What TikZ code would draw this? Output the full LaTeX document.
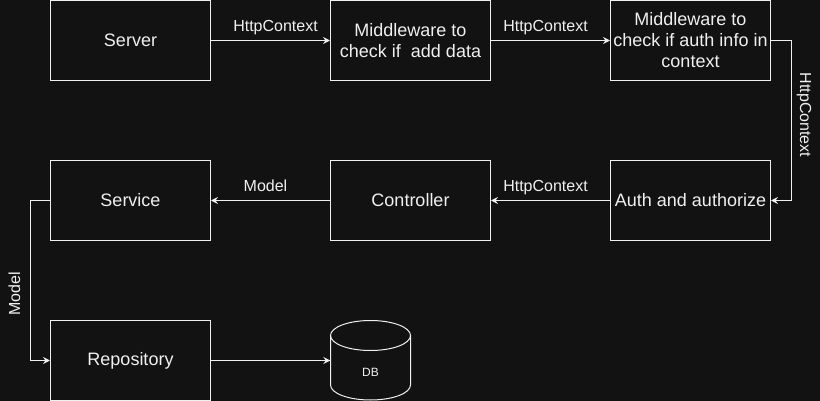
\documentclass[tikz,border=0pt]{standalone}
\usepackage{fontspec}
\setmainfont{Liberation Sans}
\usetikzlibrary{arrows.meta}
\definecolor{bg}{HTML}{121212}
\definecolor{fg}{HTML}{F0F0F0}
\begin{document}
\begin{tikzpicture}[x=1pt,y=-1pt,
  box/.style={draw=fg, line width=1pt, minimum width=160pt, minimum height=80pt, inner sep=0pt, align=center, text=fg, font=\fontsize{18}{21}\selectfont},
  lbl/.style={text=fg, inner sep=0pt, font=\fontsize{16}{19}\selectfont},
  hlbl/.style={lbl, midway, anchor=base, yshift=8.5pt},
  dbtext/.style={text=fg, inner sep=0pt, font=\fontsize{12}{14}\selectfont},
  conn/.style={draw=fg, line width=1pt, -{Stealth[length=7pt,width=7pt,inset=2.5pt]}}]
\fill[bg] (0,0) rectangle (820,401);
\useasboundingbox (0,0) rectangle (820,401);
\node[box] (server) at (130.5,40.5) {Server};
\node[box] (mw1) at (410.5,40.5) {Middleware to\\check if\ \ add data};
\node[box] (mw2) at (690.5,40.5) {Middleware to\\check if auth info in\\context};
\node[box] (service) at (130.5,200.5) {Service};
\node[box] (ctrl) at (410.5,200.5) {Controller};
\node[box] (auth) at (690.5,200.5) {Auth and authorize};
\node[box] (repo) at (130.5,360.5) {Repository};
% DB cylinder
\node[minimum width=80pt, minimum height=80pt, inner sep=0pt] (db) at (370.5,360.5) {};
\draw[fg, line width=1pt] (370.5,335.5) ellipse [x radius=40pt, y radius=15pt];
\draw[fg, line width=1pt] (330.5,335.5) -- (330.5,385) arc[start angle=180, end angle=360, x radius=40pt, y radius=15pt] -- (410.5,335.5);
\node[dbtext] (dblabel) at (370.5,372.8) {DB};
% connectors
\draw[conn] (server) -- node[hlbl, xshift=5pt] {HttpContext} (mw1);
\draw[conn] (mw1) -- node[hlbl, xshift=-5pt] {HttpContext} (mw2);
\draw[conn] (mw2.east) -- ++(20,0) |- (auth.east);
\node[lbl, rotate=-90] (l3) at (804,115) {HttpContext};
\draw[conn] (auth) -- node[hlbl, xshift=-5pt] {HttpContext} (ctrl);
\draw[conn] (ctrl) -- node[hlbl, xshift=-5pt] {Model} (service);
\draw[conn] (service.west) -- ++(-20,0) |- (repo.west);
\node[lbl, rotate=90] (l6) at (14.5,294) {Model};
\draw[conn] (repo.east) -- (db.west);
\end{tikzpicture}
\end{document}
